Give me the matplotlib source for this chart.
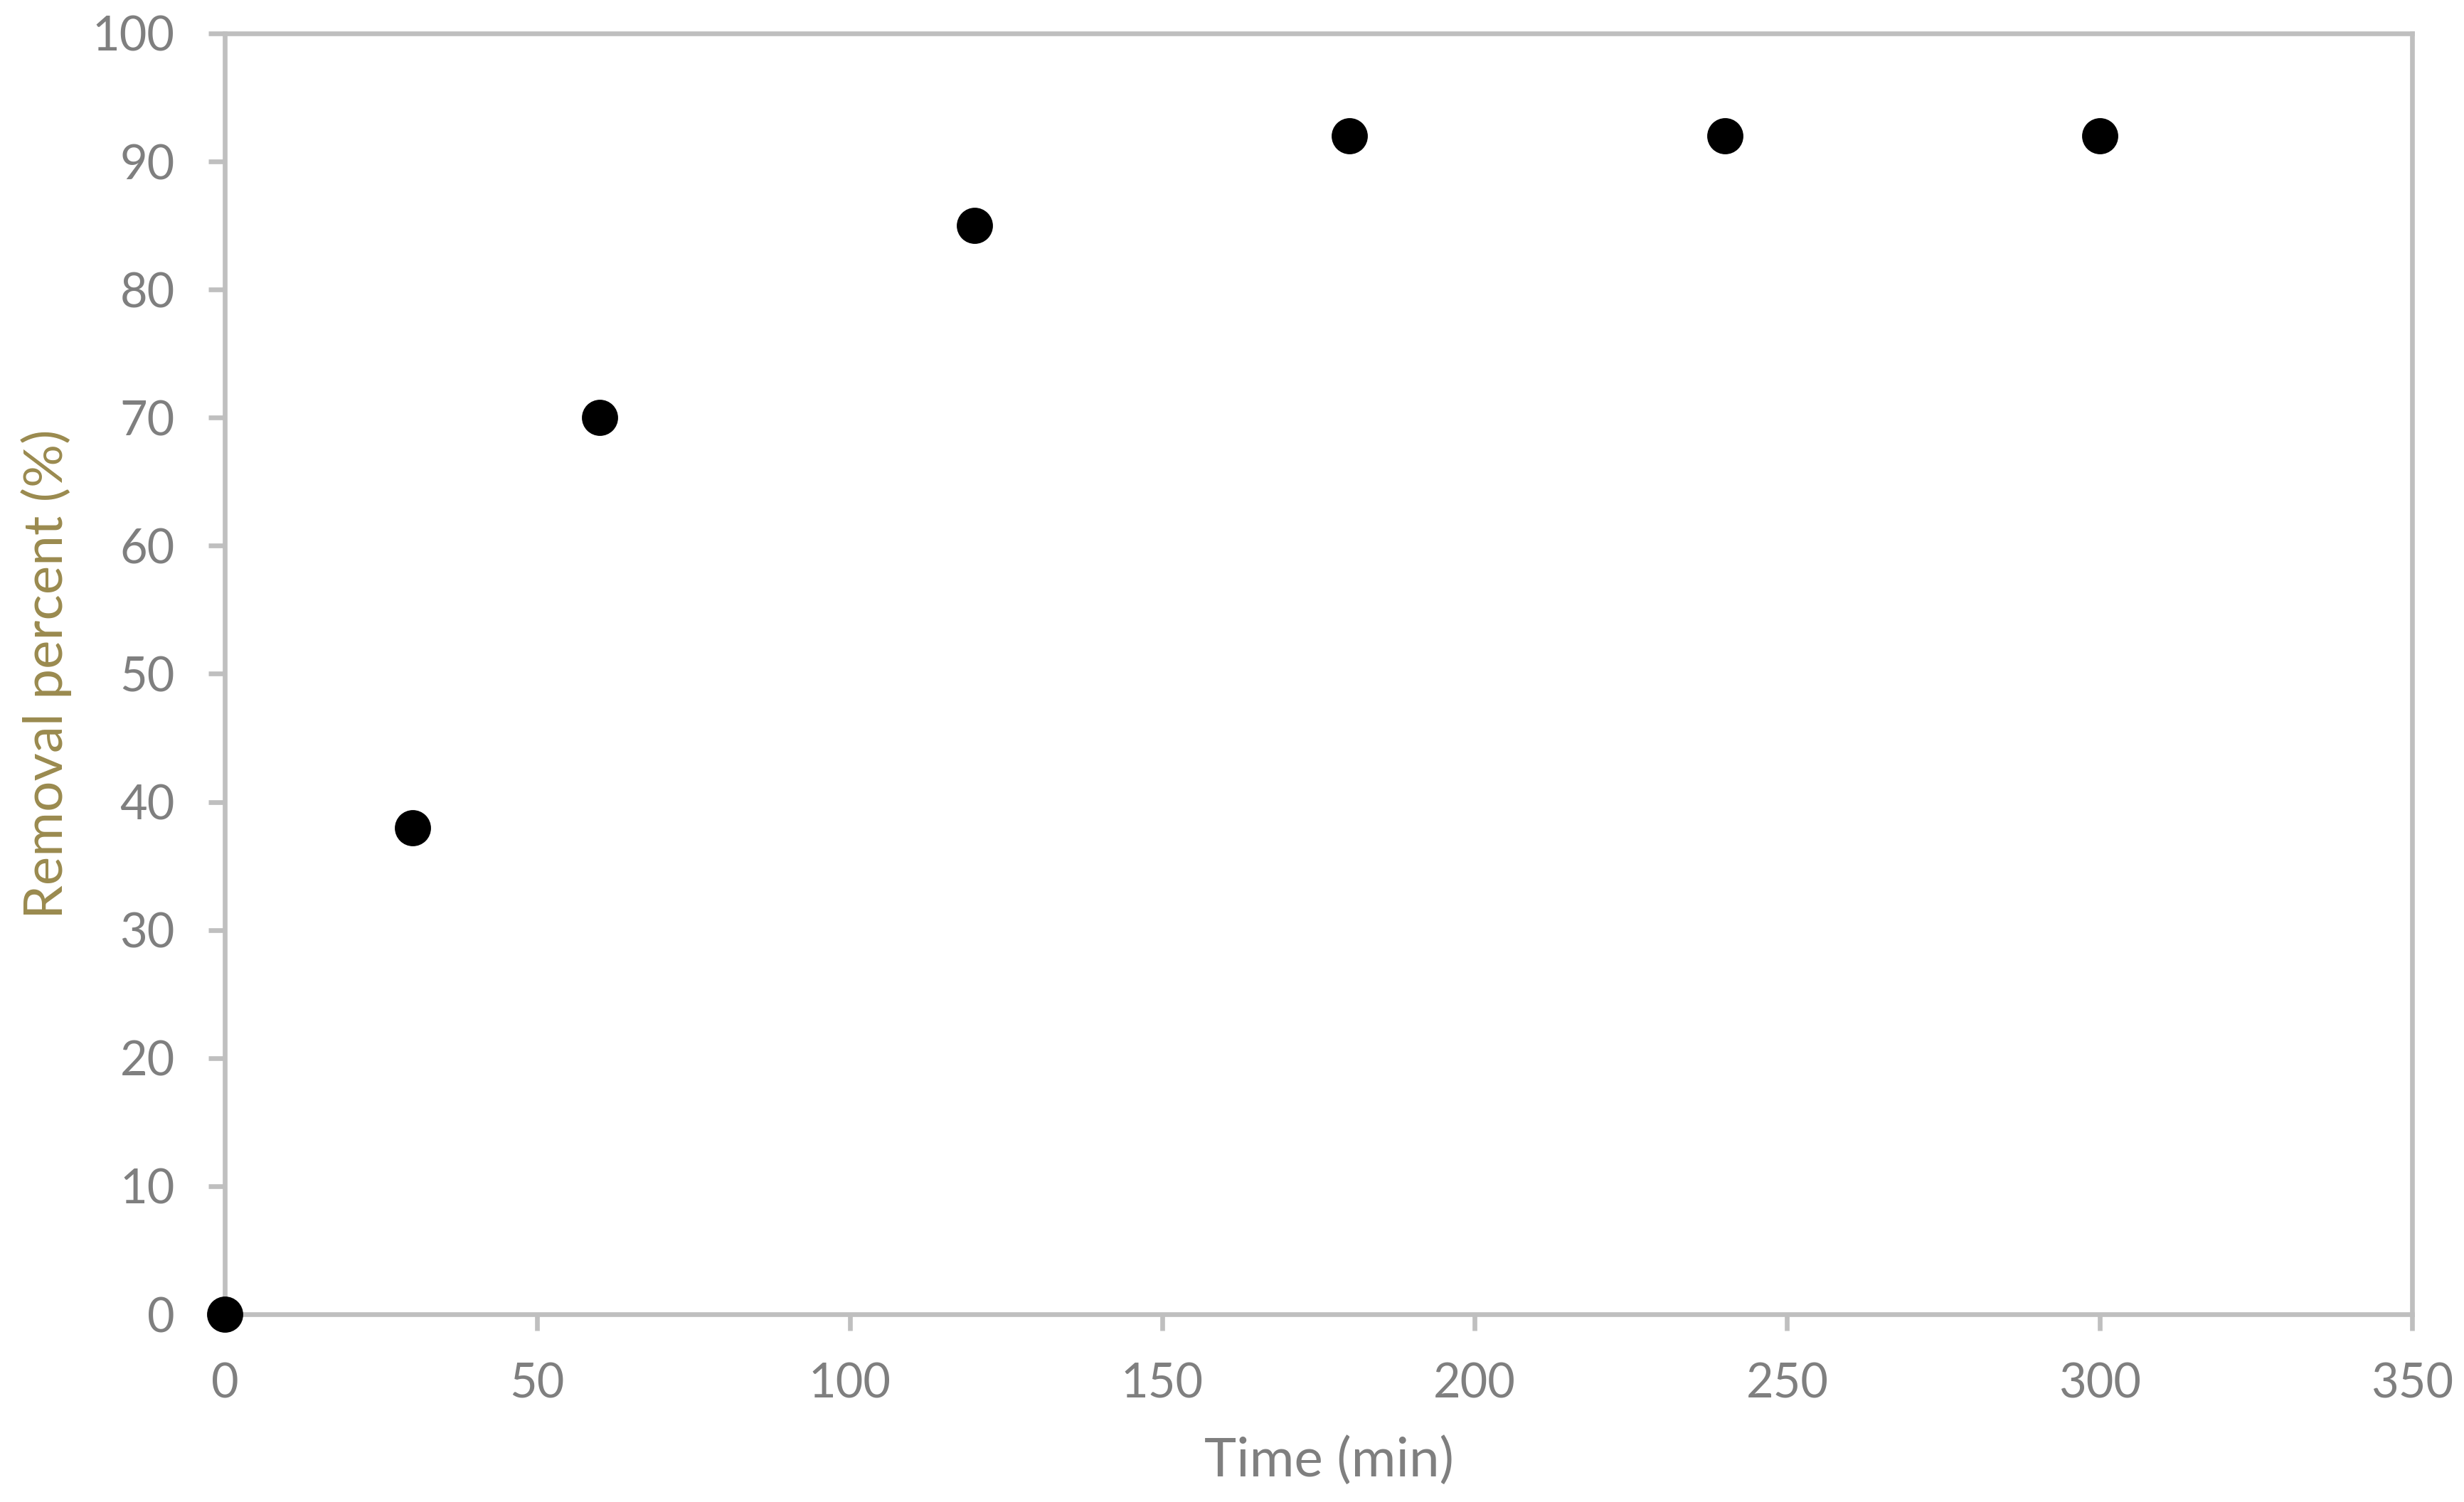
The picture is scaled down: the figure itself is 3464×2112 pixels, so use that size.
import matplotlib
matplotlib.use("Agg")
import matplotlib.pyplot as plt

time_min = [0, 30, 60, 120, 180, 240, 300]
removal_pct = [0, 38, 70, 85, 92, 92, 92]
x_ticks = [0, 50, 100, 150, 200, 250, 300, 350]
y_ticks = [0, 10, 20, 30, 40, 50, 60, 70, 80, 90, 100]

plt.rcParams['font.family'] = ['Lato', 'DejaVu Sans']

DPI = 200
fig = plt.figure(figsize=(3464 / DPI, 2112 / DPI), dpi=DPI)
ax = fig.add_axes([316 / 3464, 1 - 1848 / 2112, (3391 - 316) / 3464, (1848 - 47) / 2112])

spine_col = '#bfbfbf'
text_col = '#7f7f7f'
ax.plot(time_min, removal_pct, linestyle='none', marker='o', markersize=17.3,
        color='black', clip_on=False, zorder=5)

ax.set_xlim(0, 350)
ax.set_ylim(0, 100)
ax.set_xticks(x_ticks)
ax.set_yticks(y_ticks)
for s in ax.spines.values():
    s.set_color(spine_col)
    s.set_linewidth(2.4)
ax.tick_params(axis='both', colors=spine_col, width=2.4, length=8.3,
               labelcolor=text_col, labelsize=24)
ax.tick_params(axis='y', pad=17)
ax.tick_params(axis='x', pad=16)

ax.set_xlabel('Time (min)', fontsize=27.5, color=text_col)
ax.xaxis.set_label_coords(0.505, -0.1144)
ax.xaxis.label.set_va('center')
ax.set_ylabel('Removal percent (%)', fontsize=27.5, color='#9a8a4e')
ax.yaxis.set_label_coords(-0.0815, 0.5)
ax.yaxis.label.set_va('center')

fig.savefig('out.png', dpi=DPI, facecolor='white')
